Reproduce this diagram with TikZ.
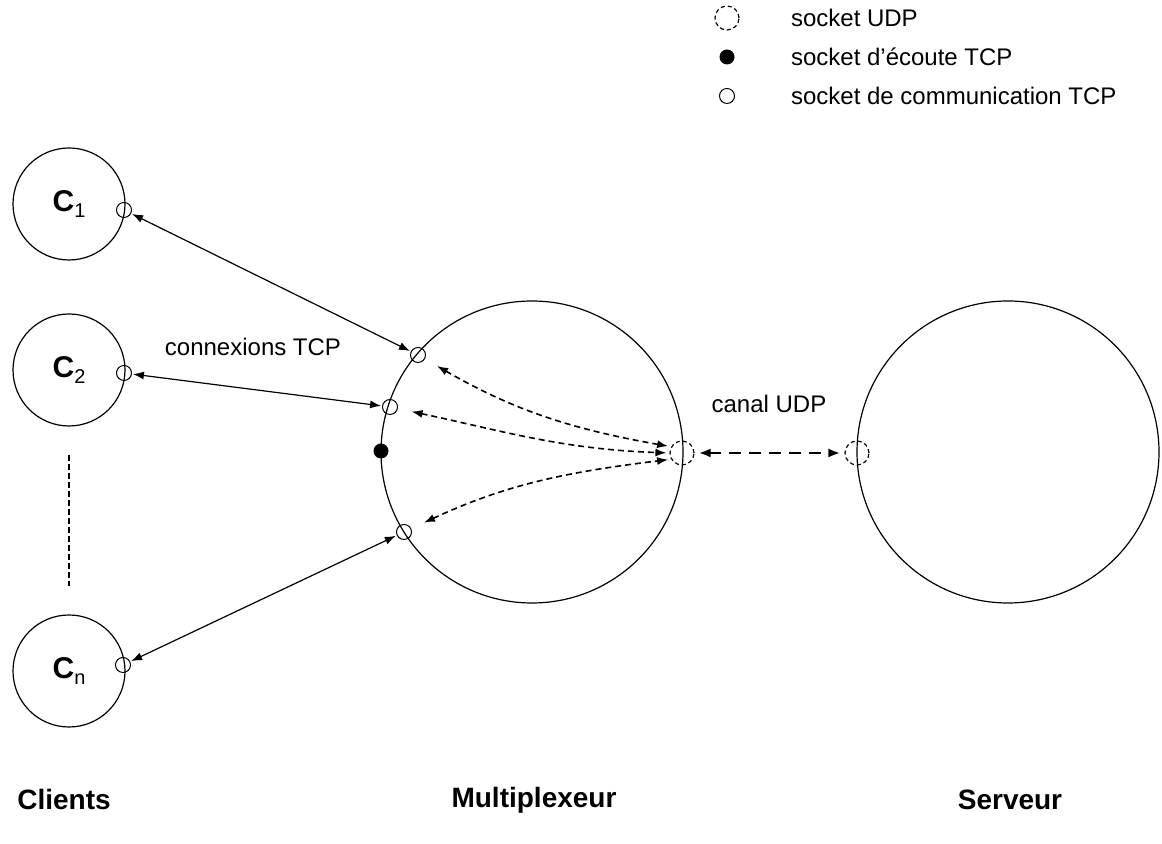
\documentclass[tikz,border=0pt]{standalone}
\usepackage{fontspec}
\setmainfont{Liberation Sans}
\usetikzlibrary{arrows.meta}
\newcommand\clientname[1]{{\fontsize{15}{15}\selectfont\bfseries C}\raisebox{-0.6ex}{\fontsize{10}{10}\selectfont #1}}
\tikzset{
  host/.style={circle,draw,line width=0.6pt,minimum size=56pt,inner sep=0pt},
  hub/.style={circle,draw,line width=0.6pt,minimum size=151pt,inner sep=0pt},
  sock/.style={circle,draw,line width=0.5pt,minimum size=7.5pt,inner sep=0pt},
  listensock/.style={circle,fill,minimum size=7.5pt,inner sep=0pt},
  udpsock/.style={circle,draw,line width=0.6pt,dash pattern=on 2pt off 1.5pt,minimum size=12pt,inner sep=0pt},
  lbl/.style={font=\fontsize{12}{14}\selectfont},
  title/.style={font=\fontsize{14}{16}\selectfont\bfseries},
  tcp/.style={<->,>={Latex[length=5.5pt,width=4pt]},line width=0.6pt,shorten <=0.5pt,shorten >=0.5pt},
  fan/.style={<->,>={Latex[length=5.5pt,width=4pt]},line width=0.8pt,dash pattern=on 3pt off 2pt,shorten <=7pt,shorten >=1.5pt},
  udp/.style={<->,>={Latex[length=6pt,width=4.5pt]},line width=1.2pt,dash pattern=on 6pt off 4pt,shorten <=2pt,shorten >=2pt}
}

\begin{document}
\begin{tikzpicture}[x=0.5pt,y=0.5pt]
\useasboundingbox (0,0) rectangle (1162,844);
\node[host] (c1) at (69,640) {\clientname{1}};
\node[host] (c2) at (69,474) {\clientname{2}};
\node[host] (cn) at (69,173) {\clientname{n}};
\node[hub] (mux) at (532,392) {};
\node[hub] (srv) at (1008,392) {};
\node[sock] (c1s) at (124,634) {};
\node[sock] (c2s) at (124,471) {};
\node[sock] (cns) at (123,179) {};
\node[sock] (s1) at (418,489) {};
\node[sock] (s2) at (390,437) {};
\node[listensock] (lst) at (381,393) {};
\node[sock] (s4) at (404,312) {};
\node[udpsock] (mu) at (682,391) {};
\node[udpsock] (su) at (857,391) {};
\node[lbl] (tcplbl) at (253,497) {connexions TCP};
\node[lbl] (udplbl) at (769,440) {canal UDP};
\node[udpsock] (lu) at (727,826) {};
\node[lbl,anchor=west] (lut) at (784,826) {socket UDP};
\node[listensock] (ll) at (727,787) {};
\node[lbl,anchor=west] (llt) at (784,787) {socket d'écoute TCP};
\node[sock] (lc) at (727,748) {};
\node[lbl,anchor=west] (lct) at (784,748) {socket de communication TCP};
\node[title] (tc) at (64,44) {Clients};
\node[title] (tm) at (534,44) {Multiplexeur};
\node[title] (ts) at (1010,44) {Serveur};
\draw[line width=0.6pt,dash pattern=on 3pt off 1.5pt,shorten <=14pt,shorten >=14pt] (c2) -- (cn);
\draw[tcp] (c1s) -- (s1);
\draw[tcp] (c2s) -- (s2);
\draw[tcp] (cns) -- (s4);
\draw[fan] (s1) to[out=-30,in=170] (mu.150);
\draw[fan] (s2) to[out=-12,in=178] (mu.west);
\draw[fan] (s4) to[out=25,in=-173] (mu.210);
\draw[udp] (mu) -- (su);
\end{tikzpicture}
\end{document}
